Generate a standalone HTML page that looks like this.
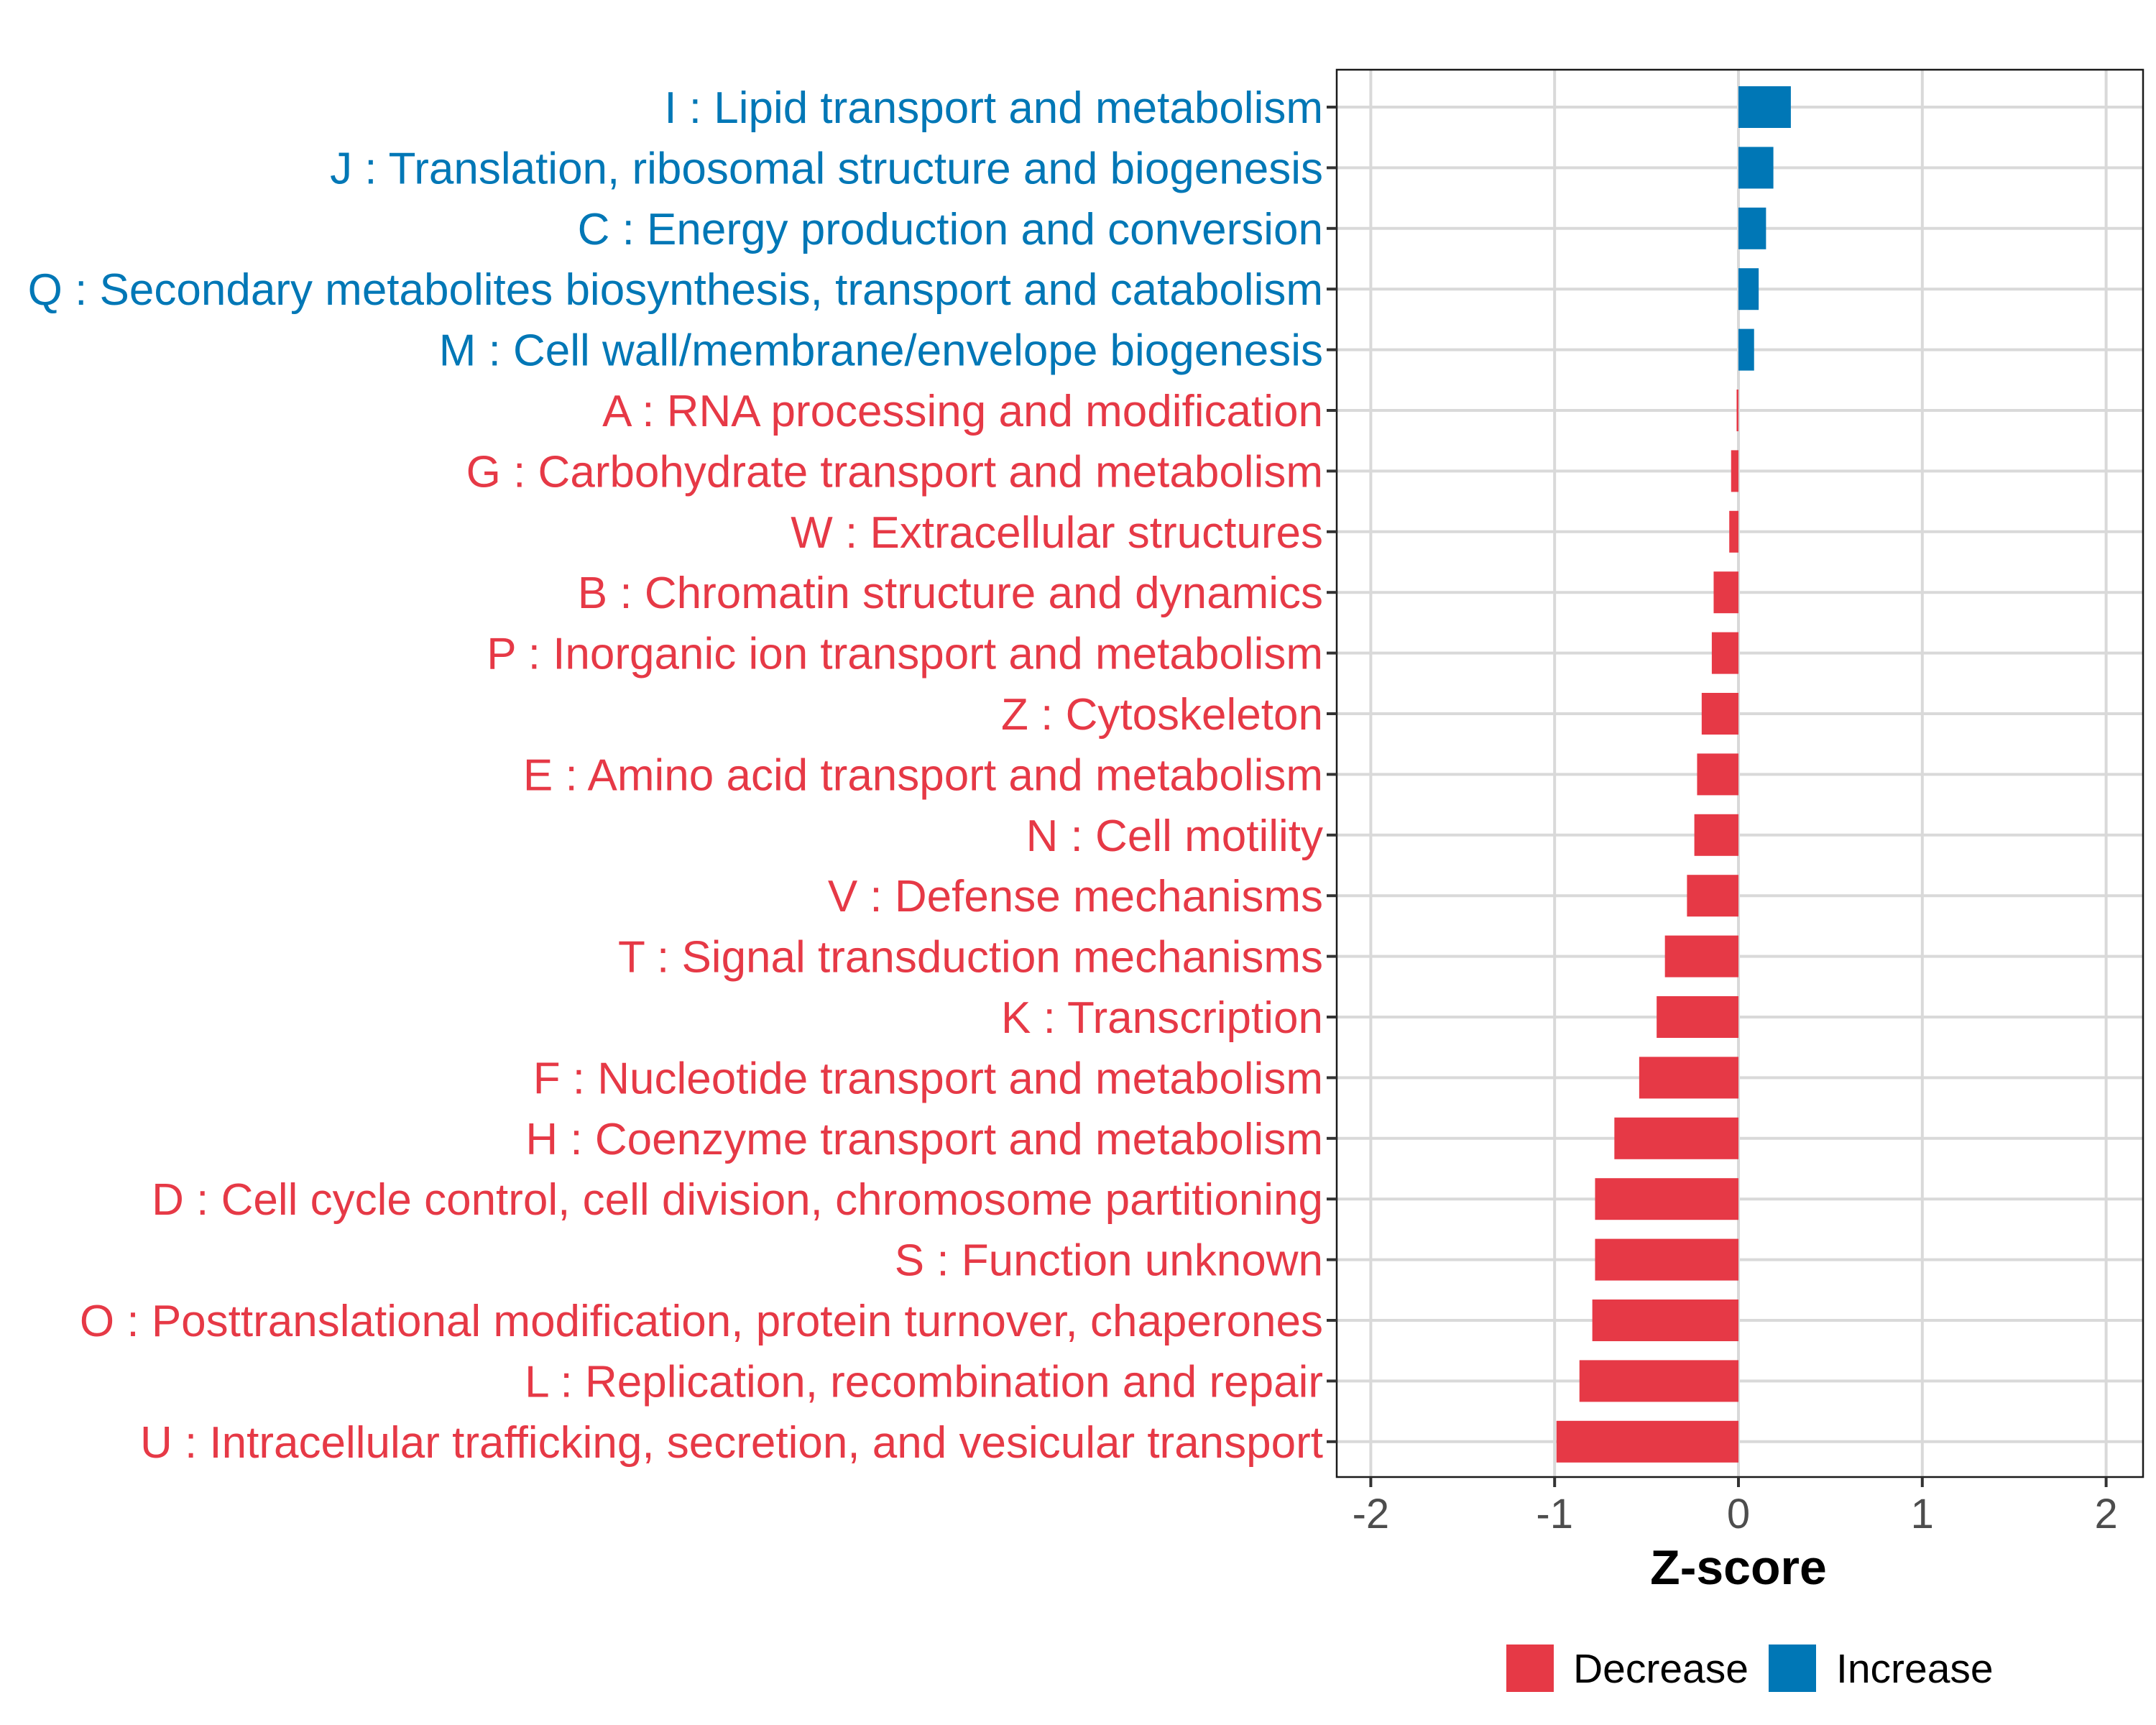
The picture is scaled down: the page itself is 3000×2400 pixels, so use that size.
<!DOCTYPE html>
<html><head><meta charset="utf-8"><style>
html,body{margin:0;padding:0;background:#fff;}
svg{display:block;}
text{font-family:"Liberation Sans",sans-serif;}
</style></head><body>
<svg id="chart" width="3000" height="2400" viewBox="0 0 3000 2400" xmlns="http://www.w3.org/2000/svg">
<rect width="3000" height="2400" fill="#fff"/>
<g id="grid"></g><g id="bars"></g>
<rect x="1860" y="97" width="1122" height="1958" fill="none" stroke="#1a1a1a" stroke-width="2.5"/>
<g id="yaxis"></g><g id="xaxis"></g>
<text x="2419" y="2204" font-size="68" font-weight="bold" text-anchor="middle" fill="#000">Z-score</text>
<g>
<rect x="2096" y="2288" width="66" height="66" fill="#E63946"/>
<text x="2189" y="2341" font-size="57" fill="#000">Decrease</text>
<rect x="2461" y="2288" width="66" height="66" fill="#0077B6"/>
<text x="2555" y="2341" font-size="57" fill="#000">Increase</text>
</g>
</svg>
<script>
const categories = ["I : Lipid transport and metabolism","J : Translation, ribosomal structure and biogenesis","C : Energy production and conversion","Q : Secondary metabolites biosynthesis, transport and catabolism","M : Cell wall/membrane/envelope biogenesis","A : RNA processing and modification","G : Carbohydrate transport and metabolism","W : Extracellular structures","B : Chromatin structure and dynamics","P : Inorganic ion transport and metabolism","Z : Cytoskeleton","E : Amino acid transport and metabolism","N : Cell motility","V : Defense mechanisms","T : Signal transduction mechanisms","K : Transcription","F : Nucleotide transport and metabolism","H : Coenzyme transport and metabolism","D : Cell cycle control, cell division, chromosome partitioning","S : Function unknown","O : Posttranslational modification, protein turnover, chaperones","L : Replication, recombination and repair","U : Intracellular trafficking, secretion, and vesicular transport"];
const zscores = [0.285,0.19,0.15,0.11,0.085,-0.01,-0.04,-0.05,-0.135,-0.145,-0.2,-0.225,-0.24,-0.28,-0.4,-0.445,-0.54,-0.675,-0.78,-0.78,-0.795,-0.865,-0.99];
const xTicks = [-2,-1,0,1,2];
const xTickLabels = ["-2","-1","0","1","2"];
const NS="http://www.w3.org/2000/svg";
const x0=2419, unit=255.8, yTop=149, step=84.4, barH=58, pL=1860, pR=2982, pB=2055;
const X = v => x0 + v*unit;
const Y = i => yTop + i*step;
function mk(tag, attrs, parent){const e=document.createElementNS(NS,tag);for(const k in attrs)e.setAttribute(k,attrs[k]);parent.appendChild(e);return e;}
const grid=document.getElementById('grid'), bars=document.getElementById('bars'), ya=document.getElementById('yaxis'), xa=document.getElementById('xaxis');
xTicks.forEach((t,i)=>{
  const g=mk('line',{x1:X(t),x2:X(t),y1:97,y2:pB,stroke:'#d9d9d9','stroke-width':4},grid);
  
  
  const tk=mk('line',{x1:X(t),x2:X(t),y1:pB,y2:pB+14,stroke:'#333','stroke-width':4},xa);
  
  
  const lb=mk('text',{x:X(t),y:2126,'font-size':58,'text-anchor':'middle',fill:'#4d4d4d'},xa);
  lb.textContent=xTickLabels[i];
  
  
});
categories.forEach((c,i)=>{
  const y=Y(i), v=zscores[i], col=v>=0?'#0077B6':'#E63946';
  const g=mk('line',{x1:pL,x2:pR,y1:y,y2:y,stroke:'#d9d9d9','stroke-width':4},grid);
  
  
  const b=mk('rect',{x:Math.min(X(0),X(v)),y:y-barH/2,width:Math.max(Math.abs(X(v)-X(0)),2),height:barH,fill:col},bars);
  
  
  const tk=mk('line',{x1:pL-14,x2:pL,y1:y,y2:y,stroke:'#333','stroke-width':4},ya);
  
  
  const lb=mk('text',{x:1841,y:y+22,'font-size':62,'text-anchor':'end',fill:col},ya);
  lb.textContent=c;
  
  
});
</script>
</body></html>
